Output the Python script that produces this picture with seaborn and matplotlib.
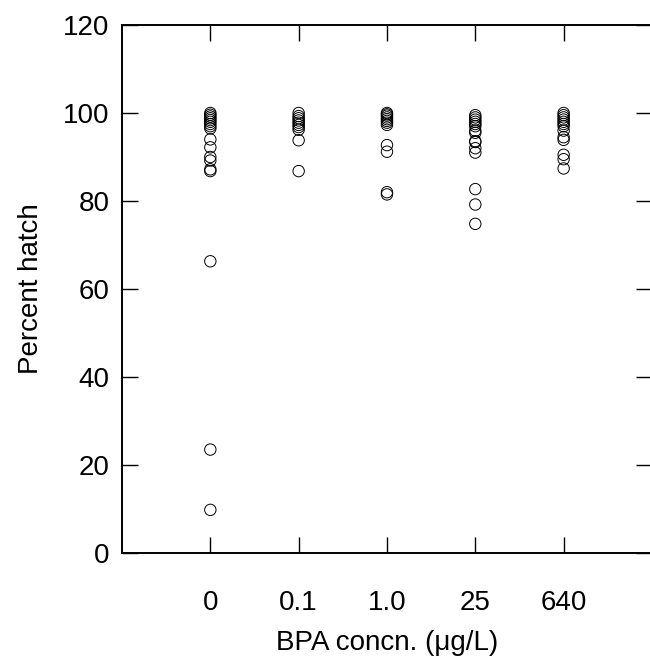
import pandas as pd
import seaborn as sns
import matplotlib.pyplot as plt

conc_labels = ['0', '0.1', '1.0', '25', '640']

hatch_0 = [100, 99.6, 99.2, 98.8, 98.4, 98.0, 97.5, 97.0, 96.5, 94.0,
           92.2, 90.0, 89.2, 87.2, 86.8, 66.3, 23.5, 9.8]
hatch_01 = [100, 99.3, 98.8, 98.3, 97.8, 97.3, 96.8, 96.2, 93.8, 86.8]
hatch_10 = [100, 99.7, 99.4, 99.0, 98.6, 98.2, 97.8, 97.3, 92.7, 91.2,
            82.0, 81.5]
hatch_25 = [99.5, 99.0, 98.5, 98.0, 97.5, 97.0, 96.0, 95.5, 93.6, 93.4,
            92.0, 91.0, 82.7, 79.2, 74.8]
hatch_640 = [100, 99.5, 99.0, 98.5, 98.0, 97.5, 97.0, 96.0, 94.5, 93.9,
             90.5, 89.5, 87.4]

groups = [hatch_0, hatch_01, hatch_10, hatch_25, hatch_640]
df = pd.DataFrame({
    'conc': [lab for lab, g in zip(conc_labels, groups) for _ in g],
    'hatch': [v for g in groups for v in g],
})

sns.set_style('ticks')
plt.rcParams['font.family'] = ['Liberation Sans', 'DejaVu Sans']

fig = plt.figure(figsize=(6.5, 6.58), dpi=100)
ax = fig.add_axes([0.1877, 0.1596, 0.8153, 0.8024])

sns.stripplot(data=df, x='conc', y='hatch', order=conc_labels, jitter=False,
              size=8.2, linewidth=0.7, ax=ax)
for coll in ax.collections:
    coll.set_facecolor('none')
    coll.set_edgecolor('black')
    coll.set_linewidth(0.7)

ax.set_xlim(-1, 5)
ax.set_ylim(0, 120)
ax.set_yticks(range(0, 121, 20))
ax.set_xlabel('BPA concn. (\u03bcg/L)', fontsize=20, labelpad=10, color='black')
ax.set_ylabel('Percent hatch', fontsize=20, labelpad=14, color='black')

for s in ax.spines.values():
    s.set_linewidth(1.4)
    s.set_color('black')
ax.tick_params(axis='both', direction='in', length=11.5, width=1.0,
               top=True, right=True, labelsize=20, colors='black')
ax.tick_params(axis='x', pad=27)
ax.tick_params(axis='y', pad=9)

plt.savefig('out.png', dpi=100)
